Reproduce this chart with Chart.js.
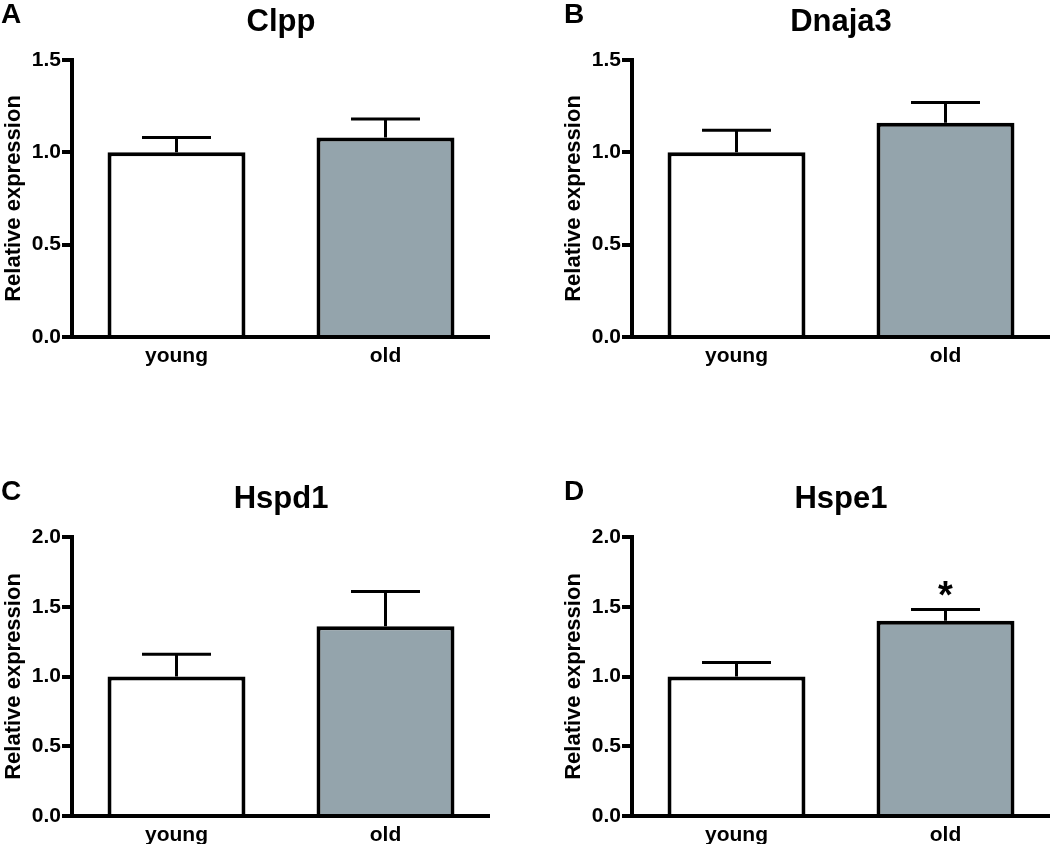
<!DOCTYPE html>
<html>
<head>
<meta charset="utf-8">
<script src="https://cdn.jsdelivr.net/npm/chart.js@4/dist/chart.umd.min.js"></script>
<style>
  body { margin: 0; background: #fff; }
  #wrap { position: relative; width: 1050px; height: 844px; overflow: hidden; }
  canvas { position: absolute; }
</style>
</head>
<body>
<div id="wrap">
  <canvas id="c0" width="490" height="420" style="left:0px;top:0px"></canvas>
  <canvas id="c1" width="490" height="420" style="left:560px;top:0px"></canvas>
  <canvas id="c2" width="490" height="367" style="left:0px;top:477px"></canvas>
  <canvas id="c3" width="490" height="367" style="left:560px;top:477px"></canvas>
</div>
<script>
/* data */
const genes = ['Clpp', 'Dnaja3', 'Hspd1', 'Hspe1'];
const letters = ['A', 'B', 'C', 'D'];
const groups = ['young', 'old'];
const youngMean = [1.00, 1.00, 1.00, 1.00];
const youngSem = [0.08, 0.12, 0.16, 0.10];
const oldMean = [1.08, 1.16, 1.36, 1.40];
const oldSem = [0.10, 0.11, 0.25, 0.08];
const yMax = [1.5, 1.5, 2.0, 2.0];
const sig = ['', '', '', '*'];

const FONT = "'Liberation Sans', Arial, Helvetica, sans-serif";
const GREY = '#94a4ac';

/* 에러바 + 제목 + 패널 문자 */
const panelDeco = {
    id: 'panelDeco',
    afterDatasetsDraw: function (chart, args, opts) {
        let ctx = chart.ctx;
        let y = chart.scales.y;
        let bars = chart.getDatasetMeta(0).data;
        ctx.save();
        ctx.strokeStyle = '#000';
        ctx.lineWidth = 3;
        for (let i = 0; i < bars.length; i++) {
            let bar = bars[i];
            let top = y.getPixelForValue(opts.means[i] + opts.sems[i]);
            let base = y.getPixelForValue(opts.means[i]);
            let half = bar.width / 4;
            ctx.beginPath();
            ctx.moveTo(bar.x, base);
            ctx.lineTo(bar.x, top);
            ctx.moveTo(bar.x - half, top);
            ctx.lineTo(bar.x + half, top);
            ctx.stroke();
            if (opts.marks[i]) {
                ctx.fillStyle = '#000';
                ctx.font = 'bold 38px ' + FONT;
                ctx.textAlign = 'center';
                ctx.textBaseline = 'alphabetic';
                ctx.fillText(opts.marks[i], bar.x, top - 2);
            }
        }
        ctx.restore();
    },
    afterDraw: function (chart, args, opts) {
        let ctx = chart.ctx;
        let area = chart.chartArea;
        ctx.save();
        ctx.fillStyle = '#000';
        ctx.textBaseline = 'alphabetic';
        ctx.textAlign = 'left';
        ctx.font = 'bold 28px ' + FONT;
        ctx.fillText(opts.letter, opts.letterX, 23);
        ctx.textAlign = 'center';
        ctx.font = 'bold 31px ' + FONT;
        ctx.fillText(opts.title, (area.left + area.right) / 2, area.top - 29);
        ctx.restore();
    }
};

for (let p = 0; p < genes.length; p++) {
    let bottomRow = p >= 2;
    let ctx = document.getElementById('c' + p).getContext('2d');

    new Chart(ctx, {
        type: 'bar',
        data: {
            labels: groups,
            datasets: [{
                data: [youngMean[p], oldMean[p]],
                backgroundColor: ['#ffffff', GREY],
                borderColor: '#000',
                borderWidth: 4,
                barPercentage: 0.66,
                categoryPercentage: 1.0
            }]
        },
        options: {
            responsive: false,
            animation: false,
            devicePixelRatio: 1,
            layout: {
                padding: { left: 0, right: 0, top: 60, bottom: bottomRow ? 0 : 43 }
            },
            plugins: {
                legend: { display: false },
                tooltip: { enabled: false },
                panelDeco: {
                    letter: letters[p],
                    letterX: (p % 2 === 0) ? 1 : 4,
                    title: genes[p],
                    means: [youngMean[p], oldMean[p]],
                    sems: [youngSem[p], oldSem[p]],
                    marks: ['', sig[p]]
                }
            },
            scales: {
                x: {
                    grid: { display: false },
                    border: { display: true, color: '#000', width: 4 },
                    ticks: {
                        color: '#000',
                        padding: -1,
                        font: { family: FONT, size: 21, weight: 'bold' }
                    },
                    afterFit: function (scale) {
                        scale.height = bottomRow ? 28 : 40;
                    }
                },
                y: {
                    min: 0,
                    max: yMax[p],
                    ticks: {
                        stepSize: 0.5,
                        color: '#000',
                        padding: 1,
                        font: { family: FONT, size: 21, weight: 'bold' },
                        callback: function (v) { return v.toFixed(1); }
                    },
                    grid: {
                        display: true,
                        drawOnChartArea: false,
                        drawTicks: true,
                        tickLength: 10,
                        lineWidth: 4,
                        color: '#000'
                    },
                    border: { display: true, color: '#000', width: 4 },
                    title: {
                        display: true,
                        text: 'Relative expression',
                        color: '#000',
                        padding: { top: 1, bottom: 0 },
                        font: { family: FONT, size: 22, weight: 'bold' }
                    },
                    afterFit: function (scale) {
                        scale.width = 72;
                    }
                }
            }
        },
        plugins: [panelDeco]
    });
}
</script>
</body>
</html>
